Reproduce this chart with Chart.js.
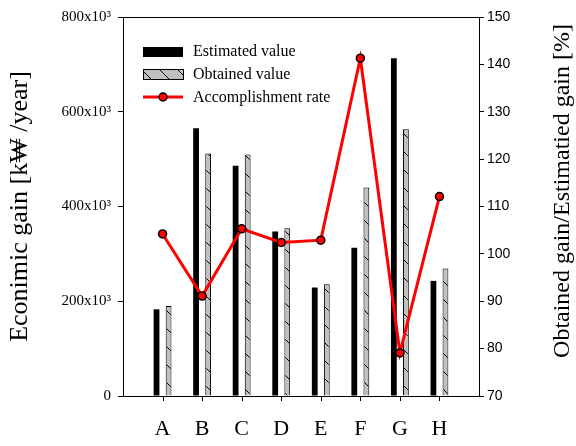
<!DOCTYPE html>
<html>
<head>
<meta charset="utf-8">
<script src="https://cdn.jsdelivr.net/npm/chart.js@4.4.1/dist/chart.umd.min.js"></script>
<style>
  html, body { margin: 0; padding: 0; background: #fff; }
  #wrap { width: 576px; height: 446px; }
</style>
</head>
<body>
<div id="wrap"><canvas id="gainChart" width="576" height="446"></canvas></div>
<script>
// Data
const categories = ["A", "B", "C", "D", "E", "F", "G", "H"];
const estimatedValue = [183000, 565000, 486000, 347000, 229000, 313000, 713000, 243000];
const obtainedValue = [190000, 512000, 510000, 354000, 236000, 440000, 563000, 269000];
const accomplishmentRate = [104.2, 91.1, 105.3, 102.4, 102.9, 141.3, 79.1, 112.1];
const gainTicks = [0, 200000, 400000, 600000, 800000];
const rateTicks = [70, 80, 90, 100, 110, 120, 130, 140, 150];

const SERIF = '"Liberation Serif", "Times New Roman", serif';
const SANS = '"Liberation Sans", Arial, sans-serif';

// one empty slot each side so A and H sit one full step from the axes
const labels = ["", ...categories, ""];
const pad = (arr) => [null, ...arr, null];

// Hatched grey fill
function makeHatch() {
  const c = document.createElement("canvas");
  c.width = 18;
  c.height = 18;
  const g = c.getContext("2d");
  g.fillStyle = "#c0c0c0";
  g.fillRect(0, 0, 18, 18);
  g.strokeStyle = "#000";
  g.lineWidth = 1;
  [-18, 0, 18].forEach((k) => {
    g.beginPath();
    g.moveTo(k, 0);
    g.lineTo(k + 18, 18);
    g.stroke();
  });
  return g.createPattern(c, "repeat");
}
const hatch = makeHatch();

// Legend, frame, category tick marks and right axis title
const extras = {
  id: "extras",
  afterDraw(chart) {
    const ctx = chart.ctx;
    const area = chart.chartArea;
    const xScale = chart.scales.x;
    ctx.save();

    // top frame
    ctx.strokeStyle = "#000";
    ctx.lineWidth = 1;
    ctx.beginPath();
    ctx.moveTo(area.left, Math.round(area.top) + 0.5);
    ctx.lineTo(area.right, Math.round(area.top) + 0.5);
    ctx.stroke();

    // tick marks under each category
    ctx.fillStyle = "#000";
    categories.forEach((c, i) => {
      const x = Math.round(xScale.getPixelForTick(i + 1));
      ctx.fillRect(x, Math.round(area.bottom), 1, 5);
    });

    // legend
    ctx.fillStyle = "#000";
    ctx.fillRect(143, 47, 40, 10);

    ctx.fillStyle = hatch;
    ctx.fillRect(143.5, 69.5, 40, 10);
    ctx.strokeStyle = "#000";
    ctx.strokeRect(143.5, 69.5, 40, 10);

    ctx.strokeStyle = "#ff0000";
    ctx.lineWidth = 3;
    ctx.beginPath();
    ctx.moveTo(143, 97);
    ctx.lineTo(183, 97);
    ctx.stroke();
    ctx.beginPath();
    ctx.arc(163, 97, 4, 0, Math.PI * 2);
    ctx.fillStyle = "#ff0000";
    ctx.fill();
    ctx.lineWidth = 1.5;
    ctx.strokeStyle = "#000";
    ctx.stroke();

    ctx.fillStyle = "#000";
    ctx.font = "16px " + SERIF;
    ctx.textAlign = "left";
    ctx.textBaseline = "middle";
    ctx.fillText("Estimated value", 193, 52);
    ctx.fillText("Obtained value", 193, 75);
    ctx.fillText("Accomplishment rate", 193, 98);

    // right title, reading bottom to top
    ctx.translate(563, 191);
    ctx.rotate(-Math.PI / 2);
    ctx.font = "24px " + SERIF;
    ctx.textAlign = "center";
    ctx.fillText("Obtained gain/Estimatied gain [%]", 0, 0);
    ctx.restore();
  },
};

new Chart(document.getElementById("gainChart"), {
  type: "bar",
  data: {
    labels: labels,
    datasets: [
      {
        type: "line",
        label: "Accomplishment rate",
        data: pad(accomplishmentRate),
        yAxisID: "y1",
        borderColor: "#ff0000",
        borderWidth: 3,
        pointRadius: 4,
        pointBackgroundColor: "#ff0000",
        pointBorderColor: "#000",
        pointBorderWidth: 1.5,
        tension: 0,
        order: 0,
      },
      {
        label: "Estimated value",
        data: pad(estimatedValue),
        backgroundColor: "#000",
        borderWidth: 0,
        yAxisID: "y",
        order: 1,
      },
      {
        label: "Obtained value",
        data: pad(obtainedValue),
        backgroundColor: hatch,
        borderColor: "#000",
        borderWidth: 1,
        yAxisID: "y",
        order: 1,
      },
    ],
  },
  options: {
    responsive: false,
    animation: false,
    categoryPercentage: 0.61,
    barPercentage: 0.48,
    layout: { padding: { top: 17, left: 0, right: 0, bottom: 0 } },
    plugins: {
      legend: { display: false },
      tooltip: { enabled: false },
    },
    scales: {
      x: {
        offset: false,
        afterFit: (s) => { s.height = 50; },
        border: { display: true, color: "#000", width: 1 },
        grid: {
          offset: false,
          drawOnChartArea: false,
          drawTicks: true,
          tickLength: 5,
          tickColor: "rgba(0,0,0,0)",
        },
        ticks: {
          color: "#000",
          padding: 15,
          maxRotation: 0,
          autoSkip: false,
          font: { family: SERIF, size: 22 },
        },
      },
      y: {
        position: "left",
        min: 0,
        max: 800000,
        afterFit: (s) => { s.width = 123; },
        afterBuildTicks: (s) => { s.ticks = gainTicks.map((v) => ({ value: v })); },
        border: { display: true, color: "#000", width: 1 },
        grid: { drawOnChartArea: false, drawTicks: true, tickLength: 5, tickColor: "#000" },
        ticks: {
          color: "#000",
          padding: 7,
          font: { family: SERIF, size: 15 },
          callback: (v) => (v === 0 ? "0" : v / 1000 + "x10\u00b3"),
        },
        title: {
          display: true,
          text: "Econimic gain [k\u20a9 /year]",
          color: "#000",
          padding: { top: 5, bottom: 0 },
          font: { family: SERIF, size: 26 },
        },
      },
      y1: {
        position: "right",
        min: 70,
        max: 150,
        afterFit: (s) => { s.width = 97; },
        afterBuildTicks: (s) => { s.ticks = rateTicks.map((v) => ({ value: v })); },
        border: { display: true, color: "#000", width: 1 },
        grid: { drawOnChartArea: false, drawTicks: true, tickLength: 5, tickColor: "#000" },
        ticks: {
          color: "#000",
          padding: 3,
          font: { family: SANS, size: 14 },
        },
      },
    },
  },
  plugins: [extras],
});
</script>
</body>
</html>
